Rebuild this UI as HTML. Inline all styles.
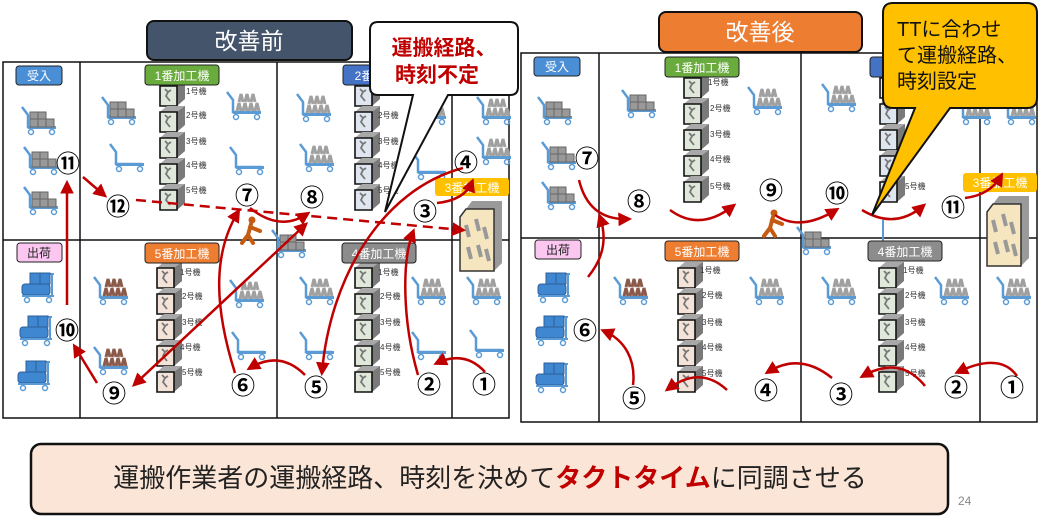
<!DOCTYPE html>
<html><head><meta charset="utf-8">
<style>
html,body{margin:0;padding:0;background:#fff;}
body{width:1047px;height:523px;overflow:hidden;font-family:"Liberation Sans","Noto Sans CJK JP",sans-serif;}
svg text{font-family:"Liberation Sans","Noto Sans CJK JP",sans-serif;}
</style></head><body>
<svg width="1047" height="523" viewBox="0 0 1047 523" xmlns="http://www.w3.org/2000/svg">
<defs>
<marker id="ah" viewBox="0 0 10 10" refX="7" refY="5" markerWidth="5.5" markerHeight="5.5" orient="auto-start-reverse"><path d="M0,0 L10,5 L0,10 z" fill="#c00000"/></marker>
<g id="mach">
 <path d="M3,6 L10,0 L28,0 L28,19 L20,26 L3,26 z" fill="#7a7a7a"/>
 <path d="M3,6 L10,0 L28,0 L20,6 z" fill="#a8a8a8"/>
 <path d="M3,6 L20,6 L20,26 L3,26 z" fill="#dfe8da" stroke="#111" stroke-width="1.6"/>
 <path d="M8,9 l3,3 l-2,4 l4,5 M11,12 l3,-2" stroke="#777" stroke-width="1.8" fill="none"/>
</g>
<g id="machB">
 <path d="M3,6 L10,0 L28,0 L28,19 L20,26 L3,26 z" fill="#7a7a7a"/>
 <path d="M3,6 L10,0 L28,0 L20,6 z" fill="#a8a8a8"/>
 <path d="M3,6 L20,6 L20,26 L3,26 z" fill="#e0e6f0" stroke="#111" stroke-width="1.6"/>
 <path d="M8,9 l3,3 l-2,4 l4,5 M11,12 l3,-2" stroke="#777" stroke-width="1.8" fill="none"/>
</g>
<g id="machP">
 <path d="M3,6 L10,0 L28,0 L28,19 L20,26 L3,26 z" fill="#7a7a7a"/>
 <path d="M3,6 L10,0 L28,0 L20,6 z" fill="#a8a8a8"/>
 <path d="M3,6 L20,6 L20,26 L3,26 z" fill="#f3e3d8" stroke="#111" stroke-width="1.6"/>
 <path d="M8,9 l3,3 l-2,4 l4,5 M11,12 l3,-2" stroke="#777" stroke-width="1.8" fill="none"/>
</g>
<g id="cartE">
 <path d="M2,2 L8,10 L8,22 L34,22" stroke="#5b9bd5" stroke-width="2.5" fill="none"/>
 <rect x="8" y="21" width="28" height="3" fill="#5b9bd5"/>
 <circle cx="11" cy="27" r="2.5" fill="none" stroke="#5b9bd5" stroke-width="1.5"/><circle cx="32" cy="27" r="2.5" fill="none" stroke="#5b9bd5" stroke-width="1.5"/>
</g>
<g id="cartG">
 <use href="#cartE"/>
 <rect x="10" y="7" width="8" height="8" fill="#999" stroke="#666"/><rect x="18" y="7" width="8" height="8" fill="#999" stroke="#666"/>
 <rect x="10" y="14" width="8" height="8" fill="#999" stroke="#666"/><rect x="18" y="14" width="8" height="8" fill="#999" stroke="#666"/><rect x="26" y="14" width="8" height="8" fill="#999" stroke="#666"/>
</g>
<g id="cartF">
 <use href="#cartE"/>
 <path d="M12,21 l2,-8 l2,8 M18,21 l2,-8 l2,8 M24,21 l2,-8 l2,8 M30,21 l2,-8 l2,8 M14,12 l2,-8 l2,8 M20,12 l2,-8 l2,8 M26,12 l2,-8 l2,8" stroke="#a0a0a0" stroke-width="3" fill="none"/>
</g>
<g id="cartR">
 <use href="#cartE"/>
 <path d="M12,21 l2,-8 l2,8 M18,21 l2,-8 l2,8 M24,21 l2,-8 l2,8 M30,21 l2,-8 l2,8 M14,12 l2,-8 l2,8 M20,12 l2,-8 l2,8 M26,12 l2,-8 l2,8" stroke="#8b5a4a" stroke-width="3" fill="none"/>
</g>
<g id="cartB">
 <path d="M30,2 L34,2 M32,2 L32,24" stroke="#5b9bd5" stroke-width="2"/>
 <rect x="10" y="1" width="10" height="11" fill="#3f87d0" stroke="#2e5f9a"/><rect x="20" y="1" width="10" height="11" fill="#3f87d0" stroke="#2e5f9a"/>
 <rect x="2" y="12" width="28" height="11" rx="3" fill="#3f87d0" stroke="#2e5f9a"/>
 <rect x="2" y="23" width="32" height="2" fill="#5b9bd5"/>
 <circle cx="7" cy="28" r="2.5" fill="none" stroke="#5b9bd5" stroke-width="1.5"/><circle cx="29" cy="28" r="2.5" fill="none" stroke="#5b9bd5" stroke-width="1.5"/>
</g>
<g id="m3">
 <path d="M8,4 L14,-4 L44,-4 L44,58 L36,66 L8,66 z" fill="#9a9a9a"/>
 <path d="M2,12 L8,4 L36,4 L36,66 L2,66 z" fill="#f6e6c0" stroke="#333" stroke-width="1.5"/>
 <path d="M8,20 l3,12 M18,14 l3,12 M26,22 l3,12 M10,42 l3,12 M20,40 l3,12 M28,44 l3,12" stroke="#999" stroke-width="4"/>
</g>
<g id="person">
 <circle cx="10" cy="3" r="3.5" fill="#c55a11"/>
 <path d="M9,7 L6,18 L0,26 M6,18 L11,26 M8,10 L18,14" stroke="#c55a11" stroke-width="4" fill="none" stroke-linecap="round"/>
</g>
</defs>

<!-- LEFT PANEL GRID -->
<g stroke="#111" stroke-width="1.5" fill="none">
 <rect x="3" y="62" width="506" height="356"/>
 <line x1="80" y1="62" x2="80" y2="418"/><line x1="277" y1="62" x2="277" y2="418"/><line x1="452" y1="62" x2="452" y2="418"/>
 <line x1="3" y1="240" x2="509" y2="240"/>
</g>
<!-- RIGHT PANEL GRID -->
<g stroke="#111" stroke-width="1.5" fill="none">
 <rect x="521" y="53" width="516" height="369"/>
 <line x1="599" y1="53" x2="599" y2="422"/><line x1="801" y1="53" x2="801" y2="422"/><line x1="980" y1="53" x2="980" y2="422"/>
 <line x1="521" y1="238" x2="1037" y2="238"/>
</g>

<!-- LEFT contents -->
<use href="#cartG" x="20" y="105"/><use href="#cartG" x="22" y="145"/><use href="#cartG" x="22" y="185"/>
<use href="#cartB" x="20" y="272"/><use href="#cartB" x="18" y="315"/><use href="#cartB" x="16" y="360"/>
<use href="#cartG" x="100" y="95"/><use href="#cartE" x="108" y="142"/>
<use href="#cartF" x="225" y="90"/><use href="#cartE" x="228" y="145"/>
<use href="#cartF" x="295" y="92"/><use href="#cartF" x="298" y="142"/>
<use href="#cartF" x="410" y="95"/><use href="#cartF" x="475" y="95"/><use href="#cartF" x="475" y="135"/><use href="#cartE" x="410" y="150"/>
<use href="#cartR" x="92" y="275"/><use href="#cartR" x="92" y="345"/>
<use href="#cartF" x="228" y="278"/><use href="#cartE" x="230" y="330"/>
<use href="#cartF" x="298" y="275"/><use href="#cartE" x="298" y="330"/>
<use href="#cartF" x="410" y="275"/><use href="#cartE" x="410" y="330"/>
<use href="#cartF" x="465" y="275"/><use href="#cartE" x="468" y="328"/>
<use href="#cartG" x="270" y="228"/>
<g font-size="8" fill="#333">
<use href="#mach" x="157" y="80"/><use href="#mach" x="157" y="106"/><use href="#mach" x="157" y="132"/><use href="#mach" x="157" y="158"/><use href="#mach" x="157" y="184"/>
<text x="186" y="94">1号機</text><text x="186" y="118">2号機</text><text x="186" y="144">3号機</text><text x="186" y="168">4号機</text><text x="186" y="193">5号機</text>
<use href="#machB" x="352" y="80"/><use href="#machB" x="352" y="106"/><use href="#machB" x="352" y="132"/><use href="#machB" x="352" y="158"/><use href="#machB" x="352" y="184"/>
<text x="378" y="118">2号機</text><text x="378" y="144">3号機</text><text x="378" y="168">4号機</text><text x="378" y="193">5号機</text>
<use href="#machP" x="154" y="262"/><use href="#machP" x="154" y="288"/><use href="#machP" x="154" y="314"/><use href="#machP" x="154" y="340"/><use href="#machP" x="154" y="366"/>
<text x="180" y="275">1号機</text><text x="182" y="299">2号機</text><text x="182" y="325">3号機</text><text x="180" y="350">4号機</text><text x="182" y="375">5号機</text>
<use href="#mach" x="352" y="262"/><use href="#mach" x="352" y="288"/><use href="#mach" x="352" y="314"/><use href="#mach" x="352" y="340"/><use href="#mach" x="352" y="366"/>
<text x="378" y="275">1号機</text><text x="380" y="299">2号機</text><text x="380" y="325">3号機</text><text x="380" y="350">4号機</text><text x="380" y="375">5号機</text>
</g>
<use href="#m3" x="458" y="205"/>
<use href="#person" x="242" y="217"/>

<!-- RIGHT contents -->
<use href="#cartG" x="536" y="95"/><use href="#cartG" x="540" y="140"/><use href="#cartG" x="540" y="180"/>
<use href="#cartB" x="536" y="272"/><use href="#cartB" x="534" y="315"/><use href="#cartB" x="534" y="362"/>
<use href="#cartG" x="620" y="88"/><use href="#cartF" x="746" y="85"/>
<use href="#cartF" x="820" y="82"/><use href="#cartF" x="955" y="95"/><use href="#cartF" x="1000" y="95"/>
<use href="#cartR" x="612" y="275"/><use href="#cartF" x="748" y="275"/>
<use href="#cartF" x="820" y="275"/><use href="#cartF" x="933" y="275"/><use href="#cartF" x="995" y="275"/>
<use href="#cartG" x="795" y="225"/>
<g font-size="8" fill="#333">
<use href="#mach" x="681" y="72"/><use href="#mach" x="681" y="98"/><use href="#mach" x="681" y="124"/><use href="#mach" x="681" y="150"/><use href="#mach" x="681" y="176"/>
<text x="708" y="85">1号機</text><text x="710" y="111">2号機</text><text x="710" y="137">3号機</text><text x="710" y="162">4号機</text><text x="710" y="189">5号機</text>
<use href="#machB" x="877" y="72"/><use href="#machB" x="877" y="98"/><use href="#machB" x="877" y="124"/><use href="#machB" x="877" y="150"/><use href="#machB" x="877" y="176"/>
<text x="905" y="189">5号機</text>
<use href="#machP" x="675" y="262"/><use href="#machP" x="675" y="288"/><use href="#machP" x="675" y="314"/><use href="#machP" x="675" y="340"/><use href="#machP" x="675" y="366"/>
<text x="700" y="273">1号機</text><text x="702" y="298">2号機</text><text x="702" y="325">3号機</text><text x="702" y="350">4号機</text><text x="702" y="376">5号機</text>
<use href="#mach" x="876" y="262"/><use href="#mach" x="876" y="288"/><use href="#mach" x="876" y="314"/><use href="#mach" x="876" y="340"/><use href="#mach" x="876" y="366"/>
<text x="903" y="273">1号機</text><text x="905" y="298">2号機</text><text x="905" y="325">3号機</text><text x="905" y="350">4号機</text><text x="905" y="376">5号機</text>
</g>
<use href="#m3" x="985" y="200"/>
<use href="#person" x="764" y="210"/>
<line x1="883" y1="220" x2="883" y2="245" stroke="#5b9bd5" stroke-width="2"/>

<!-- Labels left -->
<g font-size="12" fill="#fff" text-anchor="middle">
<rect x="16" y="66" width="46" height="19" rx="3" fill="#4a8fd6" stroke="#222"/><text x="39" y="80">受入</text>
<rect x="145" y="65" width="74" height="20" rx="3" fill="#6aab3d" stroke="#222"/><text x="182" y="80">1番加工機</text>
<rect x="343" y="65" width="40" height="20" rx="3" fill="#4472c4" stroke="#222"/><text x="364" y="80">2番</text>
<rect x="435" y="178" width="74" height="18" rx="3" fill="#ffc000"/><text x="472" y="192">3番加工機</text>
<rect x="145" y="243" width="74" height="20" rx="3" fill="#ed7d31" stroke="#222"/><text x="182" y="258">5番加工機</text>
<rect x="342" y="243" width="74" height="20" rx="3" fill="#8c8c8c" stroke="#222"/><text x="379" y="258">4番加工機</text>
<rect x="17" y="243" width="45" height="19" rx="3" fill="#fbc6f0" stroke="#222"/><text x="39" y="257" fill="#222">出荷</text>
</g>
<!-- Labels right -->
<g font-size="12" fill="#fff" text-anchor="middle">
<rect x="534" y="57" width="46" height="19" rx="3" fill="#4a8fd6" stroke="#222"/><text x="557" y="71">受入</text>
<rect x="665" y="57" width="74" height="20" rx="3" fill="#6aab3d" stroke="#222"/><text x="702" y="72">1番加工機</text>
<rect x="870" y="57" width="30" height="20" rx="3" fill="#4472c4" stroke="#222"/>
<rect x="963" y="173" width="74" height="19" rx="3" fill="#ffc000"/><text x="1000" y="187">3番加工機</text>
<rect x="665" y="241" width="74" height="20" rx="3" fill="#ed7d31" stroke="#222"/><text x="702" y="256">5番加工機</text>
<rect x="868" y="241" width="74" height="20" rx="3" fill="#8c8c8c" stroke="#222"/><text x="905" y="256">4番加工機</text>
<rect x="535" y="240" width="46" height="19" rx="3" fill="#fbc6f0" stroke="#222"/><text x="558" y="254" fill="#222">出荷</text>
</g>

<!-- LEFT arrows -->
<g stroke="#c00000" stroke-width="2.5" fill="none" marker-end="url(#ah)">
<path d="M67,305 L67,184"/>
<path d="M83,177 L104,195"/>
<path d="M250,208 Q280,232 307,214"/>
<path d="M305,225 L135,384" marker-start="url(#ah)"/>
<path d="M97,383 L75,347"/>
<path d="M235,373 C212,300 215,250 238,212"/>
<path d="M305,375 Q280,350 250,368"/>
<path d="M463,168 C380,190 330,280 322,372"/>
<path d="M437,203 Q465,200 472,182"/>
<path d="M418,375 C402,320 402,260 413,232"/>
<path d="M485,372 Q465,350 437,363"/>
</g>
<path d="M136,200 L462,230" stroke="#c00000" stroke-width="2.5" stroke-dasharray="10,6" fill="none" marker-end="url(#ah)"/>
<!-- RIGHT arrows -->
<g stroke="#c00000" stroke-width="2.5" fill="none" marker-end="url(#ah)">
<path d="M588,277 C606,255 606,235 600,217"/>
<path d="M579,180 C585,205 600,220 628,219"/>
<path d="M670,210 Q700,232 733,206"/>
<path d="M775,215 Q800,232 836,210"/>
<path d="M862,210 Q895,230 923,206"/>
<path d="M965,198 Q990,195 1001,176"/>
<path d="M1017,376 Q1000,352 958,372"/>
<path d="M925,386 Q900,355 863,376"/>
<path d="M832,378 Q800,352 768,372"/>
<path d="M727,390 Q700,365 668,389"/>
<path d="M633,385 C636,360 625,340 604,331"/>
</g>

<!-- Circled numbers -->
<g font-size="24" fill="#000" text-anchor="middle" font-weight="bold" style="font-family:'Noto Sans CJK JP',sans-serif">
<text x="68" y="172">⑪</text><text x="118" y="215">⑫</text><text x="247" y="204">⑦</text><text x="312" y="206">⑧</text>
<text x="466" y="171">④</text><text x="425" y="220">③</text><text x="429" y="393">②</text><text x="484" y="393">①</text>
<text x="316" y="396">⑤</text><text x="243" y="394">⑥</text><text x="114" y="402">⑨</text><text x="67" y="339">⑩</text>
<text x="587" y="167">⑦</text><text x="639" y="210">⑧</text><text x="771" y="199">⑨</text><text x="837" y="202">⑩</text>
<text x="953" y="216">⑪</text><text x="585" y="339">⑥</text><text x="634" y="407">⑤</text><text x="766" y="399">④</text>
<text x="841" y="403">③</text><text x="956" y="396">②</text><text x="1012" y="396">①</text>
</g>

<!-- Titles -->
<rect x="147" y="21" width="205" height="39" rx="7" fill="#44546a" stroke="#111" stroke-width="2"/>
<text x="249" y="49" font-size="23" fill="#fff" text-anchor="middle">改善前</text>
<rect x="659" y="12" width="203" height="40" rx="7" fill="#ed7d31" stroke="#111" stroke-width="2"/>
<text x="760" y="40" font-size="23" fill="#fff" text-anchor="middle">改善後</text>

<!-- Callout left -->
<path d="M378,22 L510,22 Q518,22 518,30 L518,87 Q518,95 510,95 L448,95 L385,212 L413,95 L378,95 Q370,95 370,87 L370,30 Q370,22 378,22 z" fill="#fff" stroke="#111" stroke-width="2"/>
<text x="444" y="55" font-size="21" fill="#c00000" text-anchor="middle" font-weight="bold">運搬経路、</text>
<text x="437" y="82" font-size="21" fill="#c00000" text-anchor="middle" font-weight="bold">時刻不定</text>

<!-- Callout right -->
<path d="M893,3 L1027,3 Q1037,3 1037,13 L1037,98 Q1037,108 1027,108 L950,108 L872,215 L915,108 L893,108 Q883,108 883,98 L883,13 Q883,3 893,3 z" fill="#ffc000" stroke="#111" stroke-width="2"/>
<text x="897" y="36" font-size="20" fill="#111">TTに合わせ</text>
<text x="897" y="62" font-size="20" fill="#111">て運搬経路、</text>
<text x="897" y="88" font-size="20" fill="#111">時刻設定</text>

<!-- Bottom box -->
<rect x="31" y="444" width="917" height="70" rx="10" fill="#fbe5d6" stroke="#111" stroke-width="2.5"/>
<text x="490" y="487" font-size="26" fill="#222" text-anchor="middle">運搬作業者の運搬経路、時刻を決めて<tspan fill="#c00000" font-weight="bold">タクトタイム</tspan>に同調させる</text>
<text x="958" y="505" font-size="12" fill="#888">24</text>
</svg>
</body></html>
